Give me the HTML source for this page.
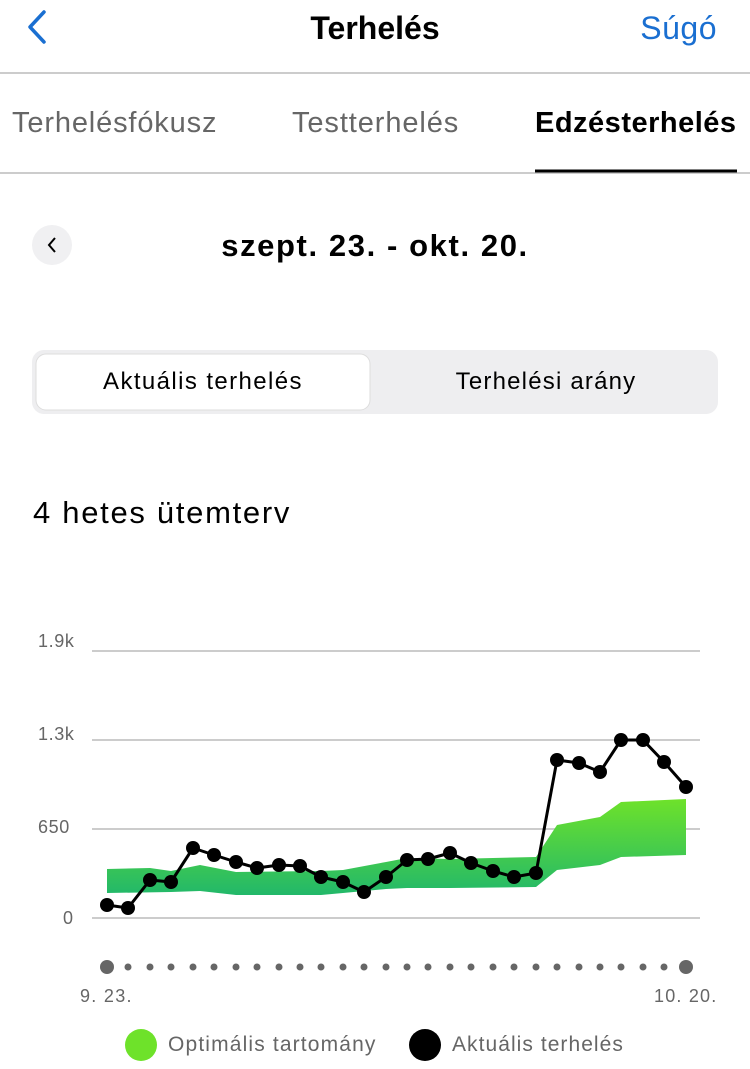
<!DOCTYPE html><html><head><style>
body{margin:0;width:750px;height:1069px;background:#fff;font-family:"Liberation Sans",sans-serif;position:relative;overflow:hidden}
.a{position:absolute;white-space:nowrap}
</style></head><body>
<svg class="a" style="left:0;top:0" width="750" height="1069">
<path d="M44 12 L30 27 L44 42" stroke="#1a6fd1" stroke-width="3.5" fill="none" stroke-linecap="round" stroke-linejoin="round"/>
<line x1="0" y1="73" x2="750" y2="73" stroke="#ccc" stroke-width="2"/>
<line x1="0" y1="173" x2="750" y2="173" stroke="#ccc" stroke-width="2"/>
<line x1="535" y1="171" x2="737" y2="171" stroke="#000" stroke-width="3"/>
<circle cx="52" cy="245" r="20" fill="#f0f0f2"/>
<path d="M55 238 L49 245 L55 252" stroke="#000" stroke-width="2" fill="none"/>
<rect x="32" y="350" width="686" height="64" rx="12" fill="#eeeef0"/>
<rect x="36" y="354" width="334" height="56" rx="10" fill="#fff" stroke="#ddd"/>
<g stroke="#ccc" stroke-width="2">
<line x1="92" y1="651" x2="700" y2="651"/><line x1="92" y1="740" x2="700" y2="740"/><line x1="92" y1="829" x2="700" y2="829"/><line x1="92" y1="918" x2="700" y2="918"/></g>
<defs><linearGradient id="g" x1="0" y1="0" x2="0" y2="1"><stop offset="0" stop-color="#6ee22a"/><stop offset="1" stop-color="#22b86a"/></linearGradient></defs>
<polygon fill="url(#g)" points="107,869 150,868 171,871 200,865 236,872 321,871 343,870 386,862 407,858 450,859 536,857 557,825 600,817 621,802 686,799 686,855 621,857 600,865 557,870 536,887 450,888 407,888 386,889 343,893 321,895 236,895 200,891 171,892 107,893"/>
<polyline fill="none" stroke="#000" stroke-width="3" stroke-linejoin="round" points="107,905 128,908 150,880 171,882 193,848 214,855 236,862 257,868 279,865 300,866 321,877 343,882 364,892 386,877 407,860 428,859 450,853 471,863 493,871 514,877 536,873 557,760 579,763 600,772 621,740 643,740 664,762 686,787"/>
<g fill="#000">
<circle cx="107" cy="905" r="7"/><circle cx="128" cy="908" r="7"/><circle cx="150" cy="880" r="7"/><circle cx="171" cy="882" r="7"/><circle cx="193" cy="848" r="7"/><circle cx="214" cy="855" r="7"/><circle cx="236" cy="862" r="7"/><circle cx="257" cy="868" r="7"/><circle cx="279" cy="865" r="7"/><circle cx="300" cy="866" r="7"/><circle cx="321" cy="877" r="7"/><circle cx="343" cy="882" r="7"/><circle cx="364" cy="892" r="7"/><circle cx="386" cy="877" r="7"/><circle cx="407" cy="860" r="7"/><circle cx="428" cy="859" r="7"/><circle cx="450" cy="853" r="7"/><circle cx="471" cy="863" r="7"/><circle cx="493" cy="871" r="7"/><circle cx="514" cy="877" r="7"/><circle cx="536" cy="873" r="7"/><circle cx="557" cy="760" r="7"/><circle cx="579" cy="763" r="7"/><circle cx="600" cy="772" r="7"/><circle cx="621" cy="740" r="7"/><circle cx="643" cy="740" r="7"/><circle cx="664" cy="762" r="7"/><circle cx="686" cy="787" r="7"/></g>
<g fill="#666">
<circle cx="107" cy="967" r="7"/><circle cx="686" cy="967" r="7"/>
<circle cx="128" cy="967" r="3.5"/><circle cx="150" cy="967" r="3.5"/><circle cx="171" cy="967" r="3.5"/><circle cx="193" cy="967" r="3.5"/><circle cx="214" cy="967" r="3.5"/><circle cx="236" cy="967" r="3.5"/><circle cx="257" cy="967" r="3.5"/><circle cx="279" cy="967" r="3.5"/><circle cx="300" cy="967" r="3.5"/><circle cx="321" cy="967" r="3.5"/><circle cx="343" cy="967" r="3.5"/><circle cx="364" cy="967" r="3.5"/><circle cx="386" cy="967" r="3.5"/><circle cx="407" cy="967" r="3.5"/><circle cx="428" cy="967" r="3.5"/><circle cx="450" cy="967" r="3.5"/><circle cx="471" cy="967" r="3.5"/><circle cx="493" cy="967" r="3.5"/><circle cx="514" cy="967" r="3.5"/><circle cx="536" cy="967" r="3.5"/><circle cx="557" cy="967" r="3.5"/><circle cx="579" cy="967" r="3.5"/><circle cx="600" cy="967" r="3.5"/><circle cx="621" cy="967" r="3.5"/><circle cx="643" cy="967" r="3.5"/><circle cx="664" cy="967" r="3.5"/></g>
<circle cx="141" cy="1045" r="16" fill="#6ee22a"/>
<circle cx="425" cy="1045" r="16" fill="#000"/>
</svg>
<div class="a" style="left:0;width:750px;text-align:center;top:10px;font-size:32px;font-weight:bold">Terhelés</div>
<div class="a" style="right:33px;top:10px;font-size:32px;color:#1a6fd1;letter-spacing:0.5px">Súgó</div>
<div class="a" style="left:12px;top:107px;font-size:29px;color:#666;letter-spacing:0.85px">Terhelésfókusz</div>
<div class="a" style="left:292px;top:107px;font-size:29px;color:#666;letter-spacing:0.9px">Testterhelés</div>
<div class="a" style="left:535px;top:107px;font-size:29px;font-weight:bold;letter-spacing:0.5px">Edzésterhelés</div>
<div class="a" style="left:0;width:750px;text-align:center;top:228px;font-size:31px;font-weight:bold;letter-spacing:1.6px">szept. 23. - okt. 20.</div>
<div class="a" style="left:36px;width:334px;text-align:center;top:368px;font-size:24px;letter-spacing:1.4px">Aktuális terhelés</div>
<div class="a" style="left:374px;width:344px;text-align:center;top:368px;font-size:24px;letter-spacing:1.2px">Terhelési arány</div>
<div class="a" style="left:33px;top:495px;font-size:31px;letter-spacing:1.7px">4 hetes ütemterv</div>
<div class="a" style="left:38px;top:631px;font-size:18px;color:#666;letter-spacing:0.6px">1.9k</div>
<div class="a" style="left:38px;top:724px;font-size:18px;color:#666;letter-spacing:0.6px">1.3k</div>
<div class="a" style="left:38px;top:817px;font-size:18px;color:#666;letter-spacing:0.6px">650</div>
<div class="a" style="left:63px;top:908px;font-size:18px;color:#666">0</div>
<div class="a" style="left:80px;top:986px;font-size:18px;color:#666;letter-spacing:1.3px">9. 23.</div>
<div class="a" style="left:654px;top:986px;font-size:18px;color:#666;letter-spacing:1.2px">10. 20.</div>
<div class="a" style="left:168px;top:1033px;font-size:21px;color:#666;letter-spacing:1.15px">Optimális tartomány</div>
<div class="a" style="left:452px;top:1033px;font-size:21px;color:#666;letter-spacing:1.05px">Aktuális terhelés</div>
</body></html>
